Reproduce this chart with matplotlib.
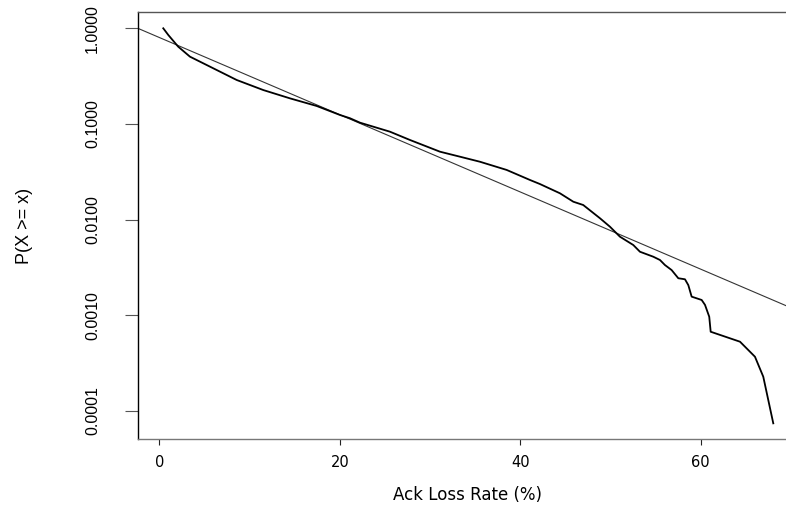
import numpy as np
import matplotlib.pyplot as plt

plt.rcParams['font.family'] = ['Liberation Sans', 'DejaVu Sans']

loss_rate = [0.42, 0.98, 2.08, 3.38, 5.60, 8.56, 11.51, 14.47, 17.43, 20.01,
             21.12, 22.23, 25.55, 27.77, 31.10, 33.31, 35.53, 38.49, 41.08, 42.18,
             44.40, 45.88, 46.98, 48.84, 49.94, 51.05, 52.53, 53.27, 54.75, 55.49,
             56.04, 56.78, 57.52, 58.26, 58.63, 59.00, 60.11, 60.48, 60.95, 61.11,
             64.36, 66.02, 66.94, 68.05]
ccdf = [1.0, 0.851, 0.642, 0.505, 0.397, 0.288, 0.226, 0.185, 0.154, 0.124,
        0.1146, 0.103, 0.0829, 0.0679, 0.0512, 0.0454, 0.0402, 0.0330, 0.0259, 0.0235,
        0.0188, 0.01535, 0.01418, 0.0103, 0.00841, 0.00661, 0.00541, 0.00460, 0.00408, 0.00377,
        0.00334, 0.00296, 0.00243, 0.00237, 0.00206, 0.00156, 0.00144, 0.00128, 0.000962, 0.000670,
        0.000527, 0.000367, 0.000227, 0.0000738]

# exponential fit: P = fit_a * exp(fit_rate * x)
fit_a = 0.80
fit_rate = -0.09296

yticks = [1.0, 0.1, 0.01, 0.001, 0.0001]
ytick_labels = ["1.0000", "0.1000", "0.0100", "0.0010", "0.0001"]
xticks = [0, 20, 40, 60]

narrow = ['Liberation Sans Narrow', 'Liberation Sans', 'DejaVu Sans']
wide = ['DejaVu Sans']

W, H = 786, 507
left_px, right_px, top_px, bottom_px = 138, 797, 12.3, 439

fig = plt.figure(figsize=(W / 100, H / 100), dpi=100)
ax = fig.add_axes([left_px / W, 1 - bottom_px / H,
                   (right_px - left_px) / W, (bottom_px - top_px) / H])

ax.set_yscale('log')
ax.set_xlim(-2.38, 70.68)
ax.set_ylim(5.06e-5, 1.47)

xs = np.array(ax.get_xlim())
ax.plot(xs, fit_a * np.exp(fit_rate * xs), color='#333333', lw=0.8)
ax.plot(loss_rate, ccdf, color='black', lw=1.3)

ax.set_xticks(xticks)
ax.set_xticklabels([str(t) for t in xticks], family=wide, fontsize=10.5)
ax.set_yticks(yticks)
ax.set_yticklabels(ytick_labels, rotation=90, va='center', family=narrow, fontsize=11.5)
ax.yaxis.set_minor_locator(plt.NullLocator())

ax.tick_params(axis='x', length=4.3, width=0.8, pad=7, color='#222222')
ax.tick_params(axis='y', length=9.4, width=0.8, pad=18, color='#555555')

ax.spines['right'].set_visible(False)
ax.spines['left'].set_color('black')
ax.spines['left'].set_linewidth(1.0)
ax.spines['top'].set_color('#555555')
ax.spines['top'].set_linewidth(1.0)
ax.spines['bottom'].set_color('#777777')
ax.spines['bottom'].set_linewidth(1.0)

ax.set_xlabel("Ack Loss Rate (%)", family=wide, fontsize=12, va='center')
ax.xaxis.set_label_coords(0.5, -0.131)
ax.set_ylabel("P(X >= x)", family=narrow, fontsize=13, va='center')
ax.yaxis.set_label_coords(-0.1715, 0.5)

fig.savefig("out.png", dpi=100)
